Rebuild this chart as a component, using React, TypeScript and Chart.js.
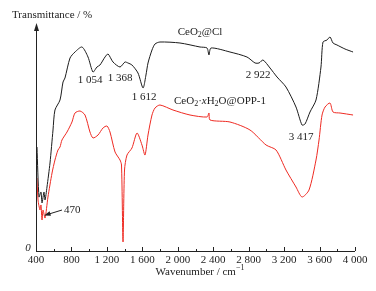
import React, { useEffect, useRef } from "react";
import { Chart, registerables } from "chart.js";

Chart.register(...registerables);

const ceClWavenumber = [411, 434, 456, 468, 490, 502, 524, 558, 592, 614, 671, 705, 727, 784, 840, 919, 987, 1043, 1088, 1122, 1179, 1213, 1269, 1348, 1404, 1438, 1483, 1551, 1608, 1641, 1664, 1709, 1743, 1799, 2025, 2251, 2330, 2352, 2375, 2589, 2781, 2872, 2917, 2962, 3041, 3120, 3221, 3334, 3402, 3436, 3492, 3560, 3616, 3639, 3684, 3718, 3752, 3797, 3887, 3978];
const ceClValue = [104, 54, 59, 48, 59, 51, 64, 88, 121, 141, 151, 169, 173, 193, 199, 204, 194, 179, 184, 186, 194, 197, 189, 184, 189, 188, 186, 178, 163, 176, 188, 201, 207, 209, 208, 204, 203, 196, 203, 199, 194, 188, 188, 191, 183, 174, 164, 144, 126, 127, 139, 151, 184, 209, 211, 214, 208, 206, 202, 199];

const oppWavenumber = [411, 423, 445, 456, 468, 479, 502, 535, 581, 614, 648, 671, 693, 750, 806, 840, 897, 953, 1009, 1043, 1100, 1156, 1201, 1235, 1292, 1348, 1365, 1382, 1399, 1427, 1483, 1540, 1596, 1630, 1664, 1709, 1743, 1799, 1946, 2138, 2330, 2352, 2364, 2589, 2815, 2996, 3109, 3221, 3334, 3402, 3481, 3560, 3594, 3628, 3662, 3718, 3752, 3831, 3978];
const oppValue = [73, 51, 41, 46, 31, 41, 33, 54, 78, 91, 101, 104, 111, 119, 129, 138, 140, 136, 119, 113, 116, 123, 125, 119, 99, 91, 86, 9, 81, 96, 103, 118, 106, 96, 116, 136, 143, 146, 141, 136, 134, 138, 131, 129, 121, 106, 101, 81, 64, 54, 61, 91, 111, 136, 144, 148, 139, 138, 136];

const majorTicks = [400, 800, 1200, 1600, 2000, 2400, 2800, 3200, 3600, 4000];
const minorTicks = [600, 1000, 1400, 1800, 2200, 2600, 3000, 3400, 3800];

const FONT = '"Liberation Serif", "Times New Roman", serif';

type Part = { t: string; sub?: boolean; sup?: boolean; italic?: boolean };

function drawRich(ctx: CanvasRenderingContext2D, parts: Part[], x: number, y: number, size: number, align: "left" | "center") {
  const fontFor = (p: Part) => `${p.italic ? "italic " : ""}${p.sub || p.sup ? Math.round(size * 0.7) : size}px ${FONT}`;
  let total = 0;
  for (const p of parts) {
    ctx.font = fontFor(p);
    total += ctx.measureText(p.t).width;
  }
  let cx = align === "center" ? x - total / 2 : x;
  ctx.textAlign = "left";
  ctx.textBaseline = "middle";
  for (const p of parts) {
    ctx.font = fontFor(p);
    const dy = p.sub ? size * 0.3 : p.sup ? -size * 0.35 : 0;
    ctx.fillText(p.t, cx, y + dy);
    cx += ctx.measureText(p.t).width;
  }
}

function fmt(v: number) {
  return v >= 1000 ? `${Math.floor(v / 1000)} ${String(v % 1000).padStart(3, "0")}` : String(v);
}

const decor = {
  id: "decor",
  afterDraw(chart: any) {
    const ctx: CanvasRenderingContext2D = chart.ctx;
    const xs = chart.scales.x;
    const ys = chart.scales.y;
    const x0 = xs.getPixelForValue(400);
    const x1 = xs.getPixelForValue(4000);
    const yb = ys.getPixelForValue(0);
    const yt = ys.getPixelForValue(228);
    ctx.save();
    ctx.strokeStyle = "#222";
    ctx.fillStyle = "#222";
    ctx.lineWidth = 1;
    // axes
    ctx.beginPath();
    ctx.moveTo(Math.round(x0) + 0.5, yb);
    ctx.lineTo(Math.round(x0) + 0.5, yt + 5);
    ctx.moveTo(x0, Math.round(yb) + 0.5);
    ctx.lineTo(x1, Math.round(yb) + 0.5);
    ctx.stroke();
    ctx.beginPath();
    ctx.moveTo(Math.round(x0) + 0.5, yt);
    ctx.lineTo(Math.round(x0) + 0.5 - 2.5, yt + 8);
    ctx.lineTo(Math.round(x0) + 0.5 + 2.5, yt + 8);
    ctx.closePath();
    ctx.fill();
    // ticks
    ctx.beginPath();
    for (const t of majorTicks) {
      const px = Math.round(xs.getPixelForValue(t)) + 0.5;
      ctx.moveTo(px, yb);
      ctx.lineTo(px, yb - 4);
    }
    for (const t of minorTicks) {
      const px = Math.round(xs.getPixelForValue(t)) + 0.5;
      ctx.moveTo(px, yb);
      ctx.lineTo(px, yb - 2);
    }
    ctx.stroke();
    // tick labels
    ctx.font = `11px ${FONT}`;
    ctx.textAlign = "center";
    ctx.textBaseline = "middle";
    for (const t of majorTicks) {
      ctx.fillText(fmt(t), xs.getPixelForValue(t), yb + 9);
    }
    // zero
    ctx.font = `italic 11px ${FONT}`;
    ctx.fillText("0", x0 - 8, yb - 3);
    // axis titles
    drawRich(ctx, [{ t: "Transmittance / %" }], 12, 15, 11, "left");
    drawRich(ctx, [{ t: "Wavenumber / cm" }, { t: "−1", sup: true }], 200, 272, 11, "center");
    // annotations
    drawRich(ctx, [{ t: "CeO" }, { t: "2", sub: true }, { t: "@Cl" }], 200, 32, 11, "center");
    drawRich(ctx, [{ t: "CeO" }, { t: "2", sub: true }, { t: "·" }, { t: "x", italic: true }, { t: "H" }, { t: "2", sub: true }, { t: "O@OPP-1" }], 220, 101, 11, "center");
    drawRich(ctx, [{ t: "1 054" }], 90, 80, 11, "center");
    drawRich(ctx, [{ t: "1 368" }], 120, 78, 11, "center");
    drawRich(ctx, [{ t: "1 612" }], 144, 97, 11, "center");
    drawRich(ctx, [{ t: "2 922" }], 258, 75, 11, "center");
    drawRich(ctx, [{ t: "3 417" }], 301, 137, 11, "center");
    drawRich(ctx, [{ t: "470" }], 64, 210, 11, "left");
    // 470 arrow
    ctx.beginPath();
    ctx.moveTo(62, 210);
    ctx.lineTo(49, 214);
    ctx.stroke();
    ctx.beginPath();
    const ax = 44, ay = 215.5;
    const ang = Math.atan2(214 - 210, 49 - 62);
    ctx.moveTo(ax, ay);
    ctx.lineTo(ax - 7 * Math.cos(ang - 0.35), ay - 7 * Math.sin(ang - 0.35));
    ctx.lineTo(ax - 7 * Math.cos(ang + 0.35), ay - 7 * Math.sin(ang + 0.35));
    ctx.closePath();
    ctx.fill();
    ctx.restore();
  },
};

export default function App() {
  const ref = useRef<HTMLCanvasElement | null>(null);
  useEffect(() => {
    if (!ref.current) return;
    const chart = new Chart(ref.current, {
      type: "line",
      data: {
        datasets: [
          {
            label: "CeO2@Cl",
            data: ceClWavenumber.map((x, i) => ({ x, y: ceClValue[i] })),
            borderColor: "#1c1c1c",
            borderWidth: 1,
            pointRadius: 0,
            tension: 0.25,
          },
          {
            label: "CeO2·xH2O@OPP-1",
            data: oppWavenumber.map((x, i) => ({ x, y: oppValue[i] })),
            borderColor: "#ee2a22",
            borderWidth: 1,
            pointRadius: 0,
            tension: 0.25,
          },
        ],
      },
      options: {
        responsive: false,
        animation: false,
        devicePixelRatio: 1,
        layout: { padding: { left: 36, right: 21, top: 23, bottom: 40 } },
        plugins: { legend: { display: false }, tooltip: { enabled: false } },
        scales: {
          x: { type: "linear", min: 400, max: 4000, display: false },
          y: { min: 0, max: 228, display: false },
        },
      },
      plugins: [decor],
    });
    return () => chart.destroy();
  }, []);
  return (
    <div style={{ position: "fixed", left: 0, top: 0, width: 376, height: 291, background: "#fff" }}>
      <canvas ref={ref} width={376} height={291} style={{ display: "block" }} />
    </div>
  );
}
